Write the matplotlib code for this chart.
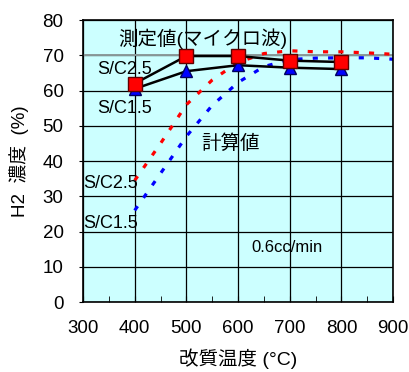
import matplotlib
matplotlib.use("Agg")
import matplotlib.pyplot as plt
from matplotlib.ticker import MultipleLocator

plt.rcParams['font.family'] = ['Liberation Sans', 'Noto Sans CJK JP']

# measured (microwave)
temps_meas = [400, 500, 600, 700, 800]
sc25_meas = [62.0, 69.8, 69.8, 68.5, 68.1]
sc15_meas = [60.5, 65.5, 67.2, 66.5, 66.1]

# calculated
temps_calc = [400, 450, 500, 550, 600, 650, 700, 750, 800, 850, 900]
sc25_calc = [34.5, 45.0, 56.0, 63.0, 68.0, 70.5, 71.3, 71.0, 71.0, 70.7, 70.3]
sc15_calc = [26.0, 36.5, 47.0, 55.8, 62.3, 66.8, 68.8, 69.2, 69.3, 69.3, 68.9]

fig = plt.figure(figsize=(4.09, 3.72), dpi=100)
ax = fig.add_axes([0.203, 0.188, 0.758, 0.758])
ax.set_facecolor('#ccffff')

ax.set_xlim(300, 900)
ax.set_ylim(0, 80)
ax.xaxis.set_major_locator(MultipleLocator(100))
ax.xaxis.set_minor_locator(MultipleLocator(50))
ax.yaxis.set_major_locator(MultipleLocator(10))
ax.grid(True, which='major', color='black', linewidth=0.9)
ax.axhline(70, color='#8a9a9a', linewidth=1.4, zorder=1)
ax.set_axisbelow(True)
ax.tick_params(which='both', direction='in', labelsize=13.5, pad=13, length=4)
ax.tick_params(axis='y', direction='out', length=3, pad=11)
for s in ax.spines.values():
    s.set_linewidth(1.2)

ax.plot(temps_calc, sc25_calc, color='red', linewidth=2.3, linestyle=(0, (1.6, 3.2)))
ax.plot(temps_calc, sc15_calc, color='blue', linewidth=2.3, linestyle=(0, (1.6, 3.2)))

ax.plot(temps_meas, sc15_meas, color='black', linewidth=1.8, marker='^',
        markersize=9, markerfacecolor='blue', markeredgecolor='#000060', zorder=4)
ax.plot(temps_meas, sc25_meas, color='black', linewidth=1.8, marker='s',
        markersize=10, markerfacecolor='red', markeredgecolor='#600000', zorder=5)

ax.text(368, 74.6, '測定値(マイクロ波)', fontsize=14, va='center', ha='left')
ax.text(327, 66.1, 'S/C2.5', fontsize=13, va='center', ha='left')
ax.text(327, 54.8, 'S/C1.5', fontsize=13, va='center', ha='left')
ax.text(529, 45, '計算値', fontsize=14, va='center', ha='left')
ax.text(301, 33.5, 'S/C2.5', fontsize=13, va='center', ha='left')
ax.text(301, 22.3, 'S/C1.5', fontsize=13, va='center', ha='left')
ax.text(626, 15.4, '0.6cc/min', fontsize=12, va='center', ha='left')

ax.set_xlabel('改質温度 (°C)', fontsize=14, labelpad=8)
ax.set_ylabel('H2  濃度  (%)', fontsize=13.5, labelpad=10)

fig.savefig('out.png', dpi=100)
